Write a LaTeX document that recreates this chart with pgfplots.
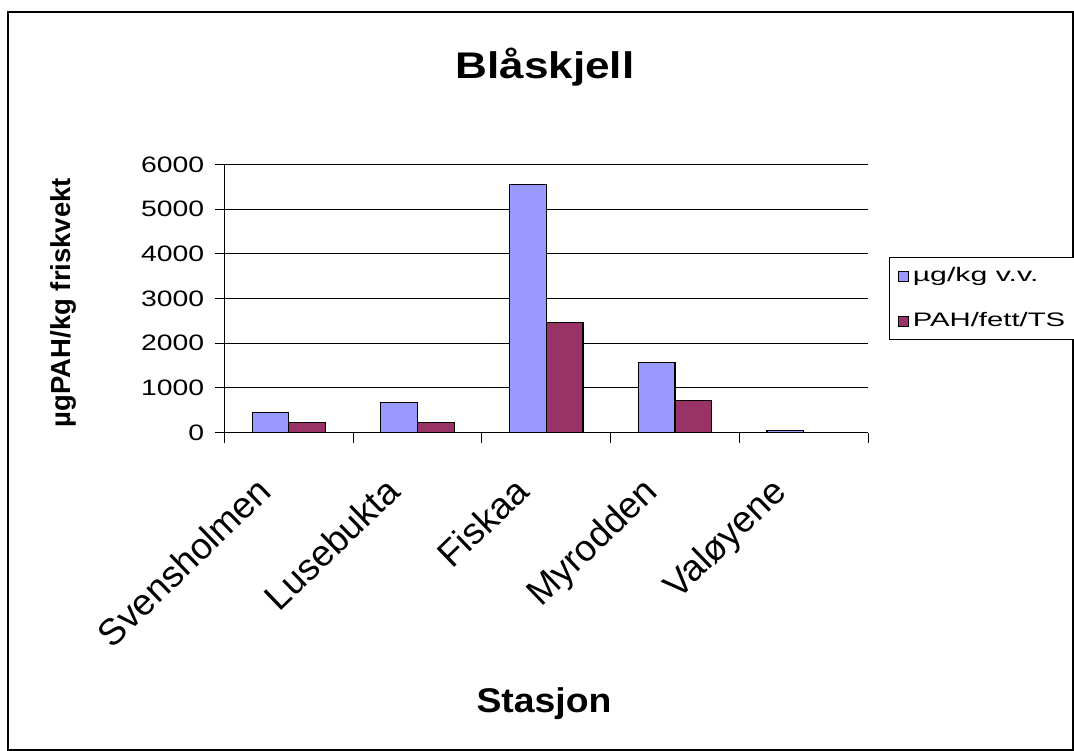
\documentclass[border=0pt]{standalone}
\usepackage{graphicx}
\usepackage{fontspec}
\setmainfont{Liberation Sans}
\usepackage{pgfplots}
\pgfplotsset{compat=1.18}

\definecolor{bblue}{HTML}{9999FF}
\definecolor{bred}{HTML}{993366}
% Excel draws the tick texts wider than the font: stretch them sideways
\newcommand{\sx}[2]{\scalebox{#1}[1]{#2}}
\newcommand{\ys}[1]{\sx{1.27}{#1}}

\begin{document}
\begin{tikzpicture}
\useasboundingbox (0,0) rectangle (537bp,375.5bp);
\draw[line width=0.7bp] (4bp,0.5bp) rectangle (536.5bp,369.5bp);
\begin{axis}[
    at={(112.25bp,159.25bp)}, anchor=south west,
    scale only axis, width=321.75bp, height=134bp,
    xmin=-0.5, xmax=4.5, ymin=0, ymax=6000,
    axis x line*=bottom, axis y line*=left,
    axis line style={black, line width=0.6bp},
    ybar=0pt, bar width=0.285,
    ytick={0,1000,2000,3000,4000,5000,6000},
    yticklabels={\ys{0},\ys{1000},\ys{2000},\ys{3000},\ys{4000},\ys{5000},\ys{6000}},
    yticklabel style={font=\fontsize{11.2}{13}\selectfont, inner sep=0pt, xshift=-5bp},
    ymajorgrids, grid style={black, line width=0.5bp},
    xtick={-0.5,0.5,1.5,2.5,3.5,4.5},
    xticklabels={,,,,,},
    extra x ticks={0,1,2,3,4},
    extra x tick labels={Svensholmen,Lusebukta,Fiskaa,Myrodden,Valøyene},
    extra x tick style={major tick length=0pt, grid=none,
        xticklabel style={xshift=-17bp, yshift=-20.8bp, rotate=44,
            anchor=north east, inner sep=0pt,
            font=\fontsize{18.5}{20}\selectfont}},
    tick align=outside, major tick length=5bp,
    tick style={black, line width=0.5bp},
    title={\sx{1.19}{Blåskjell}},
    title style={at={(axis description cs:0.498,1.277)}, anchor=base,
        font=\bfseries\fontsize{18.6}{20}\selectfont},
    xlabel={\sx{1.09}{Stasjon}},
    xlabel style={at={(axis description cs:0.4965,-1.045)}, anchor=base,
        font=\bfseries\fontsize{17.2}{19}\selectfont},
    ylabel={µgPAH/kg friskvekt},
    ylabel style={at={(axis description cs:-0.24,0.485)}, anchor=base,
        font=\bfseries\fontsize{13.8}{15}\selectfont},
    legend style={at={(axis description cs:1.0331,0.655)}, anchor=north west,
        draw=black, line width=0.5bp, font=\fontsize{9.8}{11}\selectfont,
        inner xsep=4bp, inner ysep=3bp, row sep=10bp},
    legend cell align=left,
    legend image code/.code={\draw[#1, line width=0.5bp] (0bp,-2.5bp) rectangle (5bp,2.5bp);},
]
\addplot[fill=bblue, draw=black, line width=0.6bp] coordinates {
    (0,447) (1,671) (2,5553) (3,1573) (4,45)
};
\addlegendentry{\sx{1.55}{µg/kg v.v.}}
\addplot[fill=bred, draw=black, line width=0.6bp] coordinates {
    (0,224) (1,224) (2,2460) (3,723) (4,5)
};
\addlegendentry{\sx{1.5}{PAH/fett/TS}}
\end{axis}
\end{tikzpicture}
\end{document}
